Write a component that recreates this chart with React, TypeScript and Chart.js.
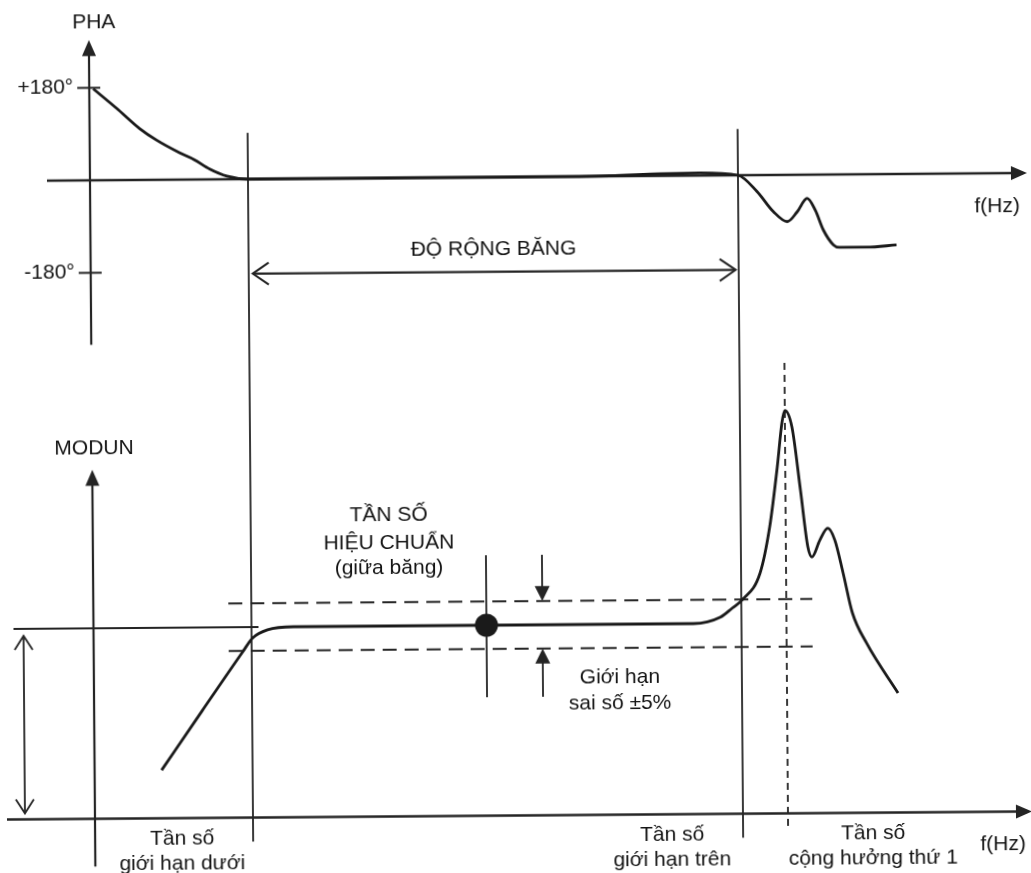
import React, { useEffect, useRef } from 'react';
import { Chart, registerables } from 'chart.js';

Chart.register(...registerables);

// ---- Data (relative, linear frequency units; phase in degrees; modulus as ratio) ----
const F_LOW = 15.8;   // lower limit frequency
const F_HIGH = 64.8;  // upper limit frequency
const F_RES = 69.3;   // first resonance
const F_CAL = 39.3;   // calibration frequency (mid-band)
const F_TOL_ARROWS = 44.9;

const MOD_REF = 1.0;
const MOD_BASE = 0.6;
const TOLERANCE = 0.05;

const PHASE_TICKS = [180, -180];
const PHASE_TICK_LABELS = ['+180°', '-180°'];

const PHASE_FREQ = [0.4, 2.7, 5.0, 6.7, 9.0, 10.4, 12.0, 13.7, 15.8, 30, 45, 52, 57, 61, 64.8, 66.7, 68.3, 69.7, 70.7, 71.7, 72.5, 73.3, 74.3, 74.9, 77.6, 80.6];
const PHASE_DEG = [178, 140, 100, 77, 52, 39, 20, 6, 0, 0, 0, 1, 4, 5, 0, -32, -71, -91, -72, -46, -69, -108, -137, -142, -142, -138];

const MOD_FREQ = [6.7, 10.8, 14.9, 15.9, 17.4, 20.0, 60.0, 62.7, 63.9, 64.9, 66.7, 67.7, 68.5, 69.0, 69.3, 70.0, 70.8, 71.5, 71.9, 72.7, 73.5, 74.2, 75.0, 75.9, 77.3, 80.4];
const MOD_VAL = [0.701, 0.825, 0.948, 0.977, 0.994, 1.0, 1.0, 1.013, 1.032, 1.049, 1.105, 1.202, 1.327, 1.420, 1.446, 1.411, 1.279, 1.159, 1.138, 1.173, 1.198, 1.173, 1.104, 1.020, 0.956, 0.851];

const TOL_SPAN = [13.5, 71.9];        // frequency extent of the ±5% lines
const RES_LINE_SPAN = [1.546, 0.563]; // modulus extent of the resonance marker

// ---- Layout ----
const W = 1031;
const H = 873;
const ORIGIN_X = 92;
const PX_PER_F = 10;
const PHASE_ZERO_Y = 177;
const PX_PER_DEG = 185 / 360;
const MOD_REF_Y = 625;
const PX_PER_MOD = 476.25;

const INK = '#242424';
const TEXT = '#141414';
const FONT = '21px "Liberation Sans", Arial, sans-serif';

function seg(ctx: CanvasRenderingContext2D, x1: number, y1: number, x2: number, y2: number, w = 2) {
  ctx.beginPath();
  ctx.lineWidth = w;
  ctx.moveTo(x1, y1);
  ctx.lineTo(x2, y2);
  ctx.stroke();
}

function head(ctx: CanvasRenderingContext2D, tx: number, ty: number, ang: number, len: number, half: number, filled: boolean) {
  const bx = tx - Math.cos(ang) * len;
  const by = ty - Math.sin(ang) * len;
  const nx = -Math.sin(ang) * half;
  const ny = Math.cos(ang) * half;
  ctx.beginPath();
  ctx.moveTo(bx + nx, by + ny);
  ctx.lineTo(tx, ty);
  ctx.lineTo(bx - nx, by - ny);
  if (filled) {
    ctx.closePath();
    ctx.fill();
  } else {
    ctx.stroke();
  }
}

function label(ctx: CanvasRenderingContext2D, s: string, x: number, y: number, align: CanvasTextAlign = 'center') {
  ctx.save();
  ctx.fillStyle = TEXT;
  ctx.textAlign = align;
  ctx.textBaseline = 'middle';
  ctx.fillText(s, x, y);
  ctx.restore();
}

const diagramPlugin = {
  id: 'bodeDiagram',
  beforeDatasetsDraw(chart: any) {
    const { ctx, scales } = chart;
    const X = (f: number) => scales.x.getPixelForValue(f);
    const P = (d: number) => scales.yPha.getPixelForValue(d);
    const M = (m: number) => scales.yMod.getPixelForValue(m);
    const UP = -Math.PI / 2;
    const DOWN = Math.PI / 2;

    ctx.save();
    ctx.strokeStyle = INK;
    ctx.fillStyle = INK;
    ctx.lineCap = 'butt';
    ctx.font = FONT;
    const x0 = X(0);

    // Phase axes
    const phaTip = P(273);
    seg(ctx, x0, phaTip + 10, x0, P(-320), 2.2);
    head(ctx, x0, phaTip, UP, 16, 7, true);
    label(ctx, 'PHA', x0 + 5, phaTip - 18);
    PHASE_TICKS.forEach((v, i) => {
      seg(ctx, x0 - 12, P(v), x0 + 11, P(v), 2);
      label(ctx, PHASE_TICK_LABELS[i], x0 - 16, P(v), 'right');
    });
    const fTip = X(93.7);
    seg(ctx, X(-4.3), P(0), fTip - 10, P(0), 2.4);
    head(ctx, fTip, P(0), 0, 16, 7, true);
    label(ctx, 'f(Hz)', X(90.7), P(0) + 33);

    // Band limit markers
    const base = M(MOD_BASE);
    [F_LOW, F_HIGH].forEach((f) => seg(ctx, X(f), P(90), X(f), base + 24, 1.8));
    const bandY = P(-184);
    const bl = X(F_LOW) + 4;
    const br = X(F_HIGH) - 3;
    seg(ctx, bl, bandY, br, bandY, 2.2);
    ctx.lineWidth = 2;
    head(ctx, bl, bandY, Math.PI, 16, 11, false);
    head(ctx, br, bandY, 0, 16, 11, false);
    label(ctx, 'ĐỘ RỘNG BĂNG', (X(F_LOW) + X(F_HIGH)) / 2, bandY - 22);

    // Modulus axes
    const modTip = M(1.333);
    seg(ctx, x0, modTip + 10, x0, M(0.5), 2.2);
    head(ctx, x0, modTip, UP, 16, 7, true);
    label(ctx, 'MODUN', x0 + 2, modTip - 21);
    seg(ctx, X(-8.8), base, fTip - 10, base, 2.4);
    head(ctx, fTip, base, 0, 16, 7, true);
    label(ctx, 'f(Hz)', X(90.8), base + 33);

    // Reference level and its span to the axis
    const ref = M(MOD_REF);
    seg(ctx, X(-8.0), ref, X(16.5), ref, 2.2);
    const ax = X(-7.0);
    seg(ctx, ax, ref + 7, ax, base - 6, 1.8);
    ctx.lineWidth = 1.8;
    head(ctx, ax, ref + 7, UP, 14, 9, false);
    head(ctx, ax, base - 6, DOWN, 14, 9, false);

    // Calibration marker and tolerance arrows
    seg(ctx, X(F_CAL), ref - 70, X(F_CAL), ref + 72, 1.8);
    const tx = X(F_TOL_ARROWS);
    const tolTop = M(MOD_REF + TOLERANCE);
    const tolBot = M(MOD_REF - TOLERANCE);
    seg(ctx, tx, ref - 70, tx, tolTop - 12, 1.8);
    head(ctx, tx, tolTop, DOWN, 15, 7.5, true);
    seg(ctx, tx, ref + 72, tx, tolBot + 12, 1.8);
    head(ctx, tx, tolBot, UP, 15, 7.5, true);

    // Annotations
    const cx = X(29.6);
    label(ctx, 'TẦN SỐ', cx, ref - 111);
    label(ctx, 'HIỆU CHUẨN', cx, ref - 83);
    label(ctx, '(giữa băng)', cx, ref - 58);
    label(ctx, 'Giới hạn', X(52.6), ref + 53);
    label(ctx, 'sai số ±5%', X(52.6), ref + 79);

    const l1 = base + 21;
    const l2 = base + 46;
    label(ctx, 'Tần số', X(F_LOW) - 71, l1);
    label(ctx, 'giới hạn dưới', X(F_LOW) - 71, l2);
    label(ctx, 'Tần số', X(F_HIGH) - 71, l1);
    label(ctx, 'giới hạn trên', X(F_HIGH) - 71, l2);
    label(ctx, 'Tần số', X(F_RES) + 85, l1);
    label(ctx, 'cộng hưởng thứ 1', X(F_RES) + 85, l2);

    ctx.restore();
  },
};

export default function App() {
  const canvasRef = useRef<HTMLCanvasElement | null>(null);

  useEffect(() => {
    const canvas = canvasRef.current;
    if (!canvas) return;

    const pts = (xs: number[], ys: number[]) => xs.map((x, i) => ({ x, y: ys[i] }));
    const curve = {
      showLine: true,
      pointRadius: 0,
      borderColor: '#1a1a1a',
      borderWidth: 2.8,
      cubicInterpolationMode: 'monotone' as const,
      fill: false,
    };
    const ruler = { showLine: true, pointRadius: 0, borderColor: INK, borderWidth: 2, fill: false };

    const chart = new Chart(canvas, {
      type: 'scatter',
      data: {
        datasets: [
          { ...curve, label: 'Pha', yAxisID: 'yPha', data: pts(PHASE_FREQ, PHASE_DEG) },
          { ...curve, label: 'Modun', yAxisID: 'yMod', data: pts(MOD_FREQ, MOD_VAL) },
          {
            ...ruler, label: '+5%', yAxisID: 'yMod', borderDash: [14, 8],
            data: TOL_SPAN.map((x) => ({ x, y: MOD_REF + TOLERANCE })),
          },
          {
            ...ruler, label: '-5%', yAxisID: 'yMod', borderDash: [14, 8],
            data: TOL_SPAN.map((x) => ({ x, y: MOD_REF - TOLERANCE })),
          },
          {
            ...ruler, label: 'Cộng hưởng', yAxisID: 'yMod', borderDash: [7, 5], borderWidth: 1.8,
            data: RES_LINE_SPAN.map((y) => ({ x: F_RES, y })),
          },
          {
            label: 'Hiệu chuẩn', yAxisID: 'yMod', showLine: false,
            pointRadius: 11.5, pointBackgroundColor: '#1a1a1a', pointBorderColor: '#1a1a1a', pointBorderWidth: 0,
            data: [{ x: F_CAL, y: MOD_REF }],
          },
        ],
      },
      options: {
        responsive: false,
        animation: false,
        events: [],
        layout: { padding: 0, autoPadding: false },
        plugins: { legend: { display: false }, tooltip: { enabled: false } },
        scales: {
          x: {
            type: 'linear', display: false, bounds: 'data',
            min: -ORIGIN_X / PX_PER_F, max: (W - ORIGIN_X) / PX_PER_F,
          },
          yPha: {
            type: 'linear', display: false, bounds: 'data',
            min: -(H - PHASE_ZERO_Y) / PX_PER_DEG, max: PHASE_ZERO_Y / PX_PER_DEG,
          },
          yMod: {
            type: 'linear', display: false, bounds: 'data',
            min: MOD_REF - (H - MOD_REF_Y) / PX_PER_MOD, max: MOD_REF + MOD_REF_Y / PX_PER_MOD,
          },
        },
      },
      plugins: [diagramPlugin],
    });

    return () => chart.destroy();
  }, []);

  return (
    <div style={{ position: 'fixed', left: 0, top: 0, width: W, height: H, background: '#fff', overflow: 'hidden' }}>
      <canvas
        ref={canvasRef}
        width={W}
        height={H}
        style={{ display: 'block', width: W, height: H, transform: 'rotate(-0.45deg)' }}
      />
    </div>
  );
}
